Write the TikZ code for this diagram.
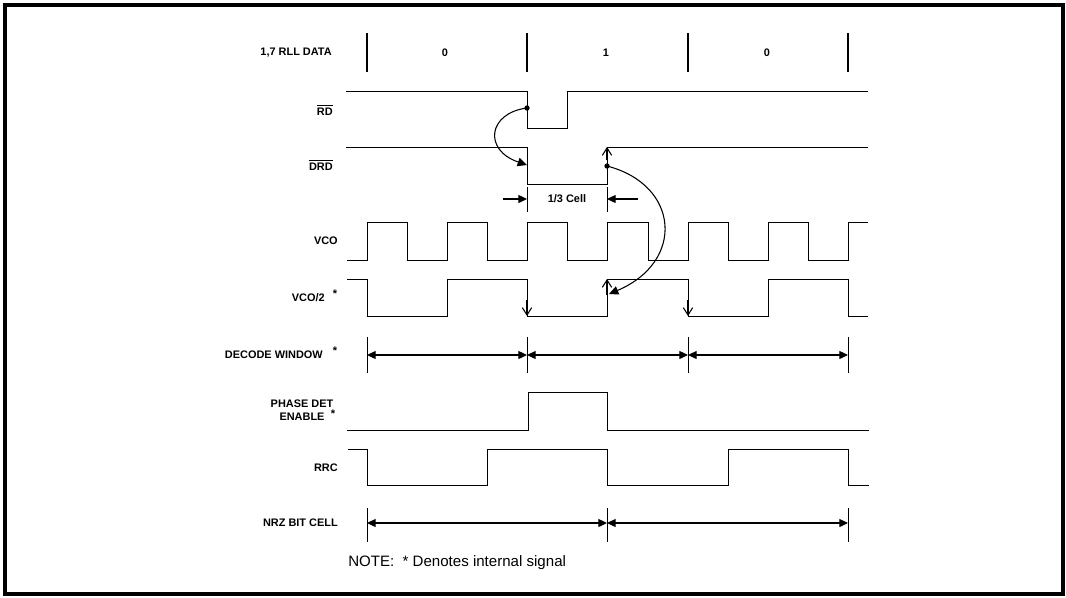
\documentclass[tikz,border=0pt]{standalone}
\usepackage{fontspec}
\setmainfont{Liberation Sans}
\usetikzlibrary{arrows.meta}
\begin{document}
\begin{tikzpicture}[x=0.75pt,y=-0.75pt,
  lbl/.style={font=\fontsize{8.2}{9.8}\selectfont\bfseries, inner sep=0pt},
  star/.style={font=\fontsize{8.3}{10}\selectfont\bfseries, inner sep=0pt},
  wave/.style={line width=0.75pt, line join=miter},
  bar/.style={line width=0.75pt},
  databar/.style={line width=1.5pt},
  dim/.style={line width=0.9pt, {Triangle[length=6.5pt,width=6pt]}-{Triangle[length=6.5pt,width=6pt]}},
  dimin/.style={line width=0.9pt, -{Triangle[length=6.5pt,width=6pt]}},
  openup/.style={line width=0.8pt, -{Straight Barb[length=5.5pt,width=7pt]}},
  causal/.style={line width=0.8pt, -{Triangle[length=7pt,width=6.5pt]}},
  dot/.style={circle, fill, inner sep=0pt, minimum size=4pt}]
\useasboundingbox (0,0) rectangle (1066,597);
\draw[line width=3pt] (4.5,4.5) rectangle (1063,593.5);

% ---- labels ----
\node[lbl, anchor=east] (lrll) at (332,53) {1,7 RLL DATA};
\node[lbl, anchor=east] (lrd) at (333,110) {$\overline{\mbox{RD}}$};
\node[lbl, anchor=east] (ldrd) at (333,165) {$\overline{\mbox{DRD}}$};
\node[lbl, anchor=east] (lvco) at (338,241) {VCO};
\node[lbl, anchor=east] (lvco2) at (325,298) {VCO/2};
\node[star] (s1) at (335,294) {*};
\node[lbl, anchor=east] (ldw) at (323,355) {DECODE WINDOW};
\node[star] (s2) at (335,351) {*};
\node[lbl, align=center] (lpd) at (302,410) {PHASE DET\\ENABLE};
\node[star] (s3) at (333,414) {*};
\node[lbl, anchor=east] (lrrc) at (338,468) {RRC};
\node[lbl, anchor=east] (lnrz) at (338,523) {NRZ BIT CELL};
\node[anchor=west, inner sep=0pt, font=\fontsize{11.3}{13}\selectfont] (note) at (348,563) {NOTE:\ \ * Denotes internal signal};

% ---- 1,7 RLL data ----
\foreach \x/\n in {367/a,527/b,688/c,848/d}
  \draw[databar] (\x,33) coordinate (rt\n) -- (\x,72) coordinate (rb\n);
\node[lbl] (d0) at (445,53) {0};
\node[lbl] (d1) at (606,53) {1};
\node[lbl] (d2) at (767,53) {0};

% ---- RD ----
\draw[wave] (346,91) -- (527,91) -- (527,128) -- (567,128) -- (567,91) -- (868,91);
% ---- DRD ----
\draw[wave] (346,147) -- (527,147) -- (527,184) -- (607,184) -- (607,147) -- (868,147);
\coordinate (drdup) at (607,147);
\draw[openup] (607,160) -- (drdup);

% ---- 1/3 cell ----
\draw[bar] (527,187) -- (527,212);
\draw[bar] (607,187) -- (607,212);
\coordinate (cl) at (527,199);
\coordinate (cr) at (607,199);
\coordinate (cla) at (503,199);
\coordinate (cra) at (638,199);
\draw[dimin] (cla) -- (cl);
\draw[dimin] (cra) -- (cr);
\node[lbl] (third) at (567,199) {1/3 Cell};

% ---- VCO ----
\draw[wave] (347,260) -- (367,260) -- (367,222) -- (407,222) -- (407,260)
  -- (447,260) -- (447,222) -- (487,222) -- (487,260)
  -- (527,260) -- (527,222) -- (567,222) -- (567,260)
  -- (607,260) -- (607,222) -- (648,222) -- (648,260)
  -- (688,260) -- (688,222) -- (728,222) -- (728,260)
  -- (768,260) -- (768,222) -- (808,222) -- (808,260)
  -- (848,260) -- (848,222) -- (868,222);

% ---- VCO/2 ----
\draw[wave] (347,279) -- (367,279) -- (367,316) -- (447,316) -- (447,279)
  -- (527,279) -- (527,316) -- (607,316) -- (607,279)
  -- (688,279) -- (688,316) -- (768,316) -- (768,279)
  -- (848,279) -- (848,316) -- (868,316);
\coordinate (v2a) at (527,316);
\coordinate (v2b) at (607,279);
\coordinate (v2c) at (688,316);
\draw[openup] (527,300) -- (v2a);
\draw[openup] (607,295) -- (v2b);
\draw[openup] (688,300) -- (v2c);

% ---- causal arrows ----
\node[dot] (rdfall) at (527,108) {};
\node[dot] (drdrise) at (607,166) {};
\coordinate (drdtip) at (527,165);
\coordinate (vcotip) at (609,294);
\draw[causal] (rdfall.center) .. controls (488,113) and (483,150) .. (drdtip);
\draw[causal] (drdrise.center) .. controls (680,185) and (685,262) .. (vcotip);

% ---- decode window ----
\foreach \x/\n in {367/a,527/b,688/c,848/d}
  \draw[bar] (\x,337) -- (\x,373) coordinate (dw\n);
\coordinate (dwA) at (367,355);
\coordinate (dwB) at (527,355);
\coordinate (dwC) at (688,355);
\coordinate (dwD) at (848,355);
\draw[dim] (dwA) -- (dwB);
\draw[dim] (dwB) -- (dwC);
\draw[dim] (dwC) -- (dwD);

% ---- phase det enable ----
\draw[wave] (347,430) -- (528,430) -- (528,392) -- (607,392) -- (607,430) -- (869,430);

% ---- RRC ----
\draw[wave] (348,449) -- (367,449) -- (367,485) -- (487,485) -- (487,449)
  -- (607,449) -- (607,485) -- (728,485) -- (728,449)
  -- (848,449) -- (848,485) -- (869,485);

% ---- NRZ bit cell ----
\foreach \x/\n in {367/a,607/b,848/c}
  \draw[bar] (\x,508) -- (\x,542);
\coordinate (nA) at (367,523);
\coordinate (nB) at (607,523);
\coordinate (nC) at (848,523);
\draw[dim] (nA) -- (nB);
\draw[dim] (nB) -- (nC);
\end{tikzpicture}
\end{document}
